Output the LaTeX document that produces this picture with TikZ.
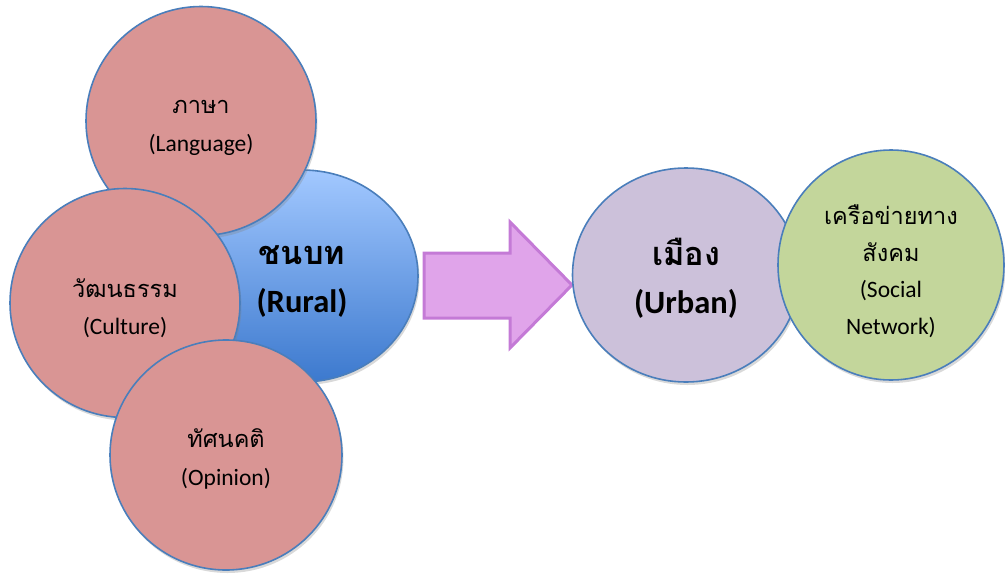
\documentclass[tikz,border=0pt]{standalone}
\usepackage{fontspec}
\setmainfont{Carlito}
\newfontfamily\thai[Script=Thai]{Loma}
\usetikzlibrary{shapes.geometric,shadows}
\definecolor{outl}{HTML}{4A7EBB}
\definecolor{pinkf}{HTML}{D99594}
\definecolor{bluetop}{HTML}{A2C8FF}
\definecolor{bluebot}{HTML}{3C79CE}
\definecolor{lavf}{HTML}{CCC1DA}
\definecolor{greenf}{HTML}{C3D69B}
\definecolor{arrf}{HTML}{E0A4EA}
\definecolor{arrd}{HTML}{C47AD6}
\begin{document}
\begin{tikzpicture}[x=1pt,y=-1pt,
  bub/.style={ellipse, draw=outl, line width=1.6pt, inner sep=0pt,
    drop shadow={opacity=0.3, shadow xshift=1.5pt, shadow yshift=-3pt}},
  small/.style={align=center, font=\fontsize{23.5}{37.5}\selectfont},
  big/.style={align=center, font=\fontsize{32.5}{48}\selectfont\bfseries},
  pinkb/.style={bub, fill=pinkf, minimum width=230pt, minimum height=229pt}]
\useasboundingbox (0,0) rectangle (1005,574);
\lineskiplimit=-100pt
% rural
\node[bub, top color=bluetop, bottom color=bluebot, minimum width=232pt, minimum height=212pt,
  label={[name=ruralt, big, yshift=-6pt]center:{\thai ชนบท}\\(Rural)}] (rural) at (302,276) {};
\node[pinkb, label={[name=langt, small, yshift=-7pt]center:{\thai ภาษา}\\(Language)}] (lang) at (201,121) {};
\node[pinkb, label={[name=cultt, small, yshift=-5pt]center:{\thai วัฒนธรรม}\\(Culture)}] (cult) at (125,303) {};
\node[pinkb, minimum width=232pt, minimum height=230pt,
  label={[name=opint, small, yshift=-4pt]center:{\thai ทัศนคติ}\\(Opinion)}] (opin) at (226,455) {};
% arrow
\path[fill=arrf, draw=arrd, line width=3pt, line join=miter]
  (424,253) -- (510,253) -- (510,222) -- (572,285) -- (510,348) -- (510,318) -- (424,318) -- cycle;
% urban
\node[bub, fill=lavf, minimum width=227pt, minimum height=214pt,
  label={[name=urbant, big, yshift=-3pt]center:{\thai เมือง}\\(Urban)}] (urban) at (686,275) {};
\node[bub, fill=greenf, minimum width=226pt, minimum height=230pt,
  label={[name=socialt, small, font=\fontsize{23.5}{36.5}\selectfont, yshift=-6pt]center:{\thai เครือข่ายทาง}\\{\thai สังคม}\\(Social\\Network)}] (social) at (891,265) {};
\end{tikzpicture}
\end{document}
